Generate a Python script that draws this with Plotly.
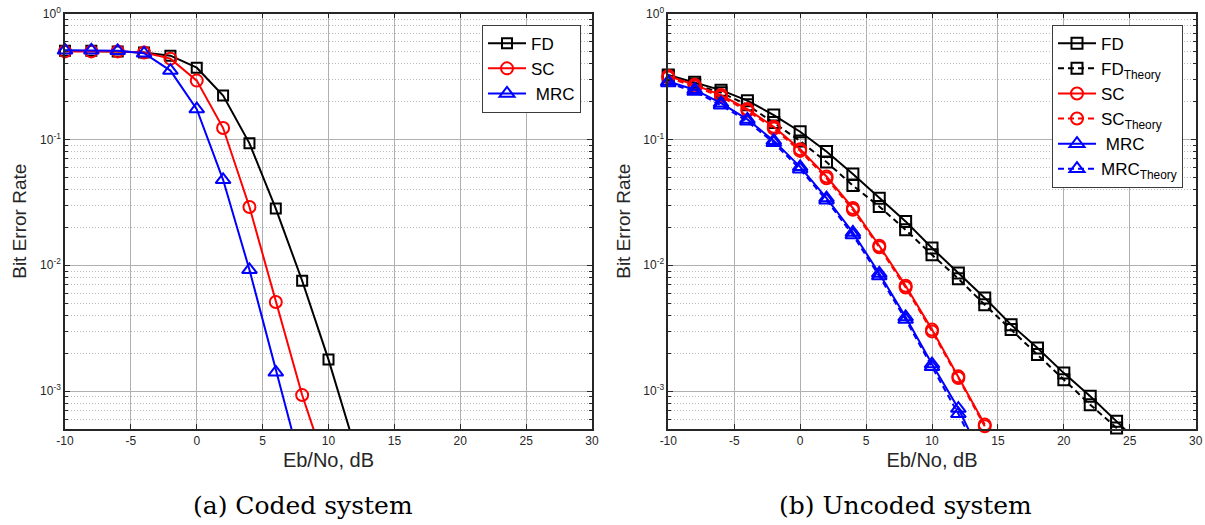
import plotly.graph_objects as go

# ---------------- data ----------------
# (a) coded system
snr_coded = [-10, -8, -6, -4, -2, 0, 2, 4, 6, 8, 10, 12]
ber_fd_coded = [0.505, 0.505, 0.5, 0.49, 0.462, 0.371, 0.223, 0.093, 0.0282, 0.00753, 0.00178, 0.00036]
ber_sc_coded = [0.5, 0.5, 0.5, 0.49, 0.438, 0.293, 0.123, 0.029, 0.0051, 0.00093, 0.00022]
ber_mrc_coded = [0.51, 0.51, 0.505, 0.483, 0.352, 0.174, 0.0477, 0.0092, 0.00141, 0.00024]

# (b) uncoded system
snr_uncoded = [-10, -8, -6, -4, -2, 0, 2, 4, 6, 8, 10, 12, 14, 16, 18, 20, 22, 24, 26]
ber_fd_sim = [0.325, 0.284, 0.246, 0.203, 0.156, 0.115, 0.08, 0.053, 0.0341, 0.0223, 0.0137,
              0.00867, 0.0055, 0.00337, 0.0022, 0.00139, 0.00091, 0.000575, 0.00036]
ber_fd_theory = [0.318, 0.274, 0.235, 0.188, 0.136, 0.097, 0.066, 0.043, 0.0293, 0.0191, 0.0121,
                 0.0078, 0.00486, 0.00308, 0.00195, 0.00123, 0.00078, 0.00051, 0.00033]
ber_sc_sim = [0.319, 0.271, 0.225, 0.174, 0.126, 0.0836, 0.0507, 0.0285, 0.0143, 0.00687,
              0.00308, 0.00131, 0.000542]
ber_sc_theory = [0.31, 0.263, 0.218, 0.169, 0.122, 0.081, 0.049, 0.0276, 0.0139, 0.00665,
                 0.00298, 0.00127, 0.000525]
ber_mrc_sim = [0.288, 0.248, 0.194, 0.144, 0.0977, 0.0605, 0.0342, 0.0182, 0.0086, 0.00388,
               0.00164, 0.000727, 0.00027]
ber_mrc_theory = [0.28, 0.24, 0.187, 0.139, 0.094, 0.058, 0.0329, 0.0174, 0.0082, 0.0037,
                  0.00156, 0.00066, 0.00025]

x_ticks = [-10, -5, 0, 5, 10, 15, 20, 25, 30]
x_tick_text = ["-10", "-5", "0", "5", "10", "15", "20", "25", "30"]
y_ticks = [1e-3, 1e-2, 1e-1, 1]
y_tick_text = ["10<sup>-3</sup>", "10<sup>-2</sup>", "10<sup>-1</sup>", "10<sup>0</sup>"]
y_minor = [m * 10.0 ** e for e in (-4, -3, -2, -1) for m in range(2, 10)]

# ---------------- styling ----------------
BLACK, RED, BLUE = "#000000", "#ff0000", "#0000ff"
FONT = "Liberation Sans, Arial, sans-serif"
SERIF = "DejaVu Serif, serif"
DASH = "6px,4px"


def series(x, y, name, color, symbol, size, dash, xa, ya, legend):
    return go.Scatter(
        x=x, y=y, name=name, mode="lines+markers", cliponaxis=False,
        line=dict(color=color, width=2, dash=dash),
        marker=dict(symbol=symbol, size=size, color=color, line=dict(color=color, width=2)),
        xaxis=xa, yaxis=ya, legend=legend,
    )


fig = go.Figure()

# coded panel
fig.add_trace(series(snr_coded, ber_fd_coded, "FD", BLACK, "square-open", 10, "solid", "x", "y", "legend"))
fig.add_trace(series(snr_coded, ber_sc_coded, "SC", RED, "circle-open", 12, "solid", "x", "y", "legend"))
fig.add_trace(series(snr_coded, ber_mrc_coded, " MRC", BLUE, "triangle-up-open", 13, "solid", "x", "y", "legend"))

# uncoded panel
n_sc = len(ber_sc_sim)
n_mrc = len(ber_mrc_sim)
fig.add_trace(series(snr_uncoded, ber_fd_sim, "FD", BLACK, "square-open", 11, "solid", "x2", "y2", "legend2"))
fig.add_trace(series(snr_uncoded, ber_fd_theory, "FD<sub>Theory</sub>", BLACK, "square-open", 11, DASH, "x2", "y2", "legend2"))
fig.add_trace(series(snr_uncoded[:n_sc], ber_sc_sim, "SC", RED, "circle-open", 12, "solid", "x2", "y2", "legend2"))
fig.add_trace(series(snr_uncoded[:n_sc], ber_sc_theory, "SC<sub>Theory</sub>", RED, "circle-open", 12, DASH, "x2", "y2", "legend2"))
fig.add_trace(series(snr_uncoded[:n_mrc], ber_mrc_sim, " MRC", BLUE, "triangle-up-open", 13, "solid", "x2", "y2", "legend2"))
fig.add_trace(series(snr_uncoded[:n_mrc], ber_mrc_theory, "MRC<sub>Theory</sub>", BLUE, "triangle-up-open", 13, DASH, "x2", "y2", "legend2"))

W, H = 1205, 525
y_dom = [(H - 429) / H, (H - 13.5) / H]

xaxis_common = dict(
    range=[-10, 30], tickmode="array", tickvals=x_ticks, ticktext=x_tick_text,
    showline=True, linecolor="#262626", linewidth=1.5, mirror="ticks",
    ticks="inside", ticklen=5, tickcolor="#262626", automargin=False,
    showgrid=True, gridcolor="#b0b0b0", gridwidth=1, zeroline=False,
    tickfont=dict(family=FONT, size=12, color="#262626"),
    title=dict(text="Eb/No, dB", font=dict(family=FONT, size=20, color="#262626"), standoff=6),
)
yaxis_common = dict(
    type="log", range=[-3.30103, 0], tickmode="array", tickvals=y_ticks, ticktext=y_tick_text,
    showline=True, linecolor="#262626", linewidth=1.5, mirror="ticks",
    ticks="inside", ticklen=5, tickcolor="#262626", automargin=False,
    showgrid=True, gridcolor="#b0b0b0", gridwidth=1, zeroline=False,
    minor=dict(tickmode="array", tickvals=y_minor, ticks="inside", ticklen=3, tickcolor="#262626",
               showgrid=True, gridcolor="#bcbcbc", griddash="1px,2px", gridwidth=1),
    tickfont=dict(family=FONT, size=12, color="#262626"),
    title=dict(text="Bit Error Rate", font=dict(family=FONT, size=19, color="#262626"), standoff=8),
)

legend_common = dict(
    yanchor="top", y=(H - 24.7) / H, xanchor="right",
    bgcolor="white", bordercolor="#3c3c3c", borderwidth=1,
    font=dict(family=FONT, size=17, color="#000000"),
    tracegroupgap=0, itemwidth=38,
)

fig.update_layout(
    width=W, height=H,
    margin=dict(l=0, r=0, t=0, b=0),
    paper_bgcolor="white", plot_bgcolor="white",
    xaxis=dict(domain=[65 / W, 592 / W], anchor="y", **xaxis_common),
    yaxis=dict(domain=y_dom, anchor="x", **yaxis_common),
    xaxis2=dict(domain=[668.3 / W, 1195.7 / W], anchor="y2", **xaxis_common),
    yaxis2=dict(domain=y_dom, anchor="x2", **yaxis_common),
    legend=dict(x=581 / W, **legend_common),
    legend2=dict(x=1183 / W, **legend_common),
    annotations=[
        dict(text="(a) Coded system", x=303 / W, y=(H - 505) / H, xref="paper", yref="paper",
             xanchor="center", yanchor="middle", showarrow=False,
             font=dict(family=SERIF, size=25, color="#000000")),
        dict(text="(b) Uncoded system", x=905 / W, y=(H - 505) / H, xref="paper", yref="paper",
             xanchor="center", yanchor="middle", showarrow=False,
             font=dict(family=SERIF, size=25, color="#000000")),
    ],
)

fig.write_html("out.html")
